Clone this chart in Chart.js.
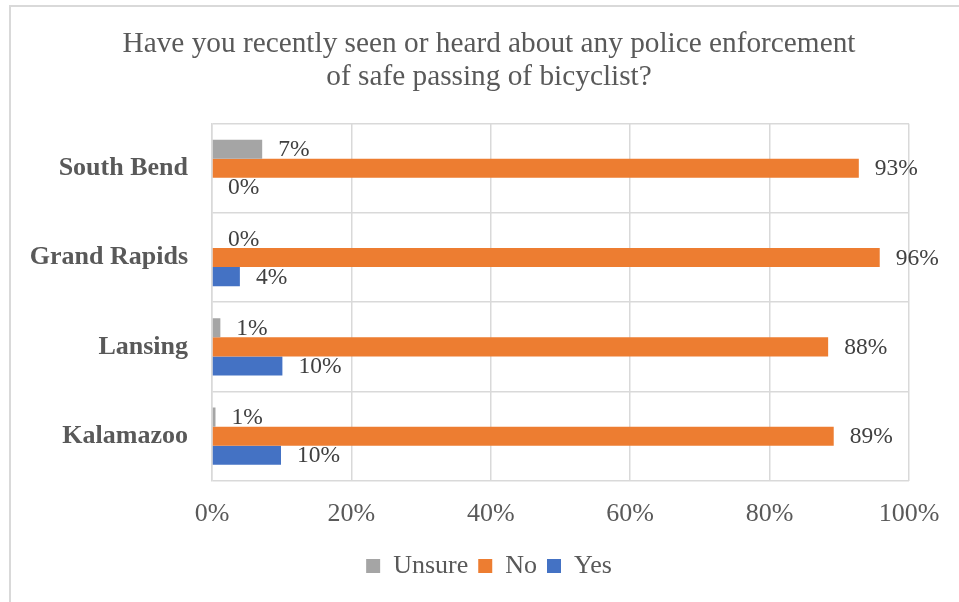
<!DOCTYPE html>
<html>
<head>
<meta charset="utf-8">
<script src="https://cdn.jsdelivr.net/npm/chart.js@4.4.0/dist/chart.umd.min.js"></script>
<style>
  html, body { margin: 0; padding: 0; background: #fff; overflow: hidden; }
  #frame { position: absolute; left: 9px; top: 5px; width: 1000px; height: 1000px;
           border-top: 2px solid #d9d9d9; border-left: 2px solid #d9d9d9; }
  #chart { position: absolute; left: 0; top: 0; }
</style>
</head>
<body>
<div id="frame"></div>
<canvas id="chart" width="959" height="602"></canvas>
<script>
const cities = ['South Bend', 'Grand Rapids', 'Lansing', 'Kalamazoo'];
const unsure = [7.2, 0, 1.2, 0.5];
const no = [92.8, 95.8, 88.4, 89.2];
const yes = [0, 4.0, 10.1, 9.9];
const xTicks = [0, 20, 40, 60, 80, 100];

const SERIF = '"Liberation Serif", "Times New Roman", serif';
const TEXT = '#595959';

// draws the value labels just past the end of each bar
const barLabels = {
  id: 'barLabels',
  afterDatasetsDraw(chart) {
    const ctx = chart.ctx;
    ctx.save();
    ctx.font = '23.5px ' + SERIF;
    ctx.fillStyle = '#404040';
    ctx.textAlign = 'left';
    ctx.textBaseline = 'middle';
    chart.data.datasets.forEach((ds, i) => {
      const meta = chart.getDatasetMeta(i);
      meta.data.forEach((bar, j) => {
        ctx.fillText(Math.round(ds.data[j]) + '%', bar.x + 16, bar.y + 1);
      });
    });
    ctx.restore();
  }
};

new Chart(document.getElementById('chart'), {
  type: 'bar',
  data: {
    labels: cities,
    datasets: [
      { label: 'Unsure', data: unsure, backgroundColor: '#a5a5a5' },
      { label: 'No', data: no, backgroundColor: '#ed7d31' },
      { label: 'Yes', data: yes, backgroundColor: '#4472c4' }
    ]
  },
  options: {
    indexAxis: 'y',
    responsive: false,
    animation: false,
    datasets: { bar: { categoryPercentage: 0.64, barPercentage: 1 } },
    layout: { padding: { left: 20, right: 1, top: 0, bottom: 13 } },
    scales: {
      x: {
        min: 0, max: 100,
        afterBuildTicks: (s) => { s.ticks = xTicks.map(v => ({ value: v })); },
        afterFit: (s) => { s.height -= 5; },
        grid: { color: '#d9d9d9', lineWidth: 1.5, drawTicks: false },
        border: { display: false },
        ticks: {
          padding: 18,
          color: TEXT,
          font: { family: SERIF, size: 26 },
          callback: (v) => v + '%'
        }
      },
      y: {
        afterFit: (s) => { s.width = 192; },
        grid: { color: '#d9d9d9', lineWidth: 1.5, drawTicks: false },
        border: { color: '#d9d9d9', width: 1.5 },
        ticks: {
          padding: 24,
          color: TEXT,
          font: { family: SERIF, size: 26, weight: 'bold' }
        }
      },
      // empty spacer on the right so the title and legend sit where the original has them
      spacer: {
        type: 'linear',
        position: 'right',
        afterFit: (s) => { s.width = 49; },
        grid: { display: false },
        border: { display: false },
        ticks: { display: false }
      }
    },
    plugins: {
      title: {
        display: true,
        text: ['Have you recently seen or heard about any police enforcement', 'of safe passing of bicyclist?'],
        color: TEXT,
        font: { family: SERIF, size: 29.3, weight: 'normal', lineHeight: 1.12 },
        padding: { top: 28, bottom: 30 }
      },
      legend: {
        position: 'bottom',
        labels: {
          color: TEXT,
          font: { family: SERIF, size: 26 },
          boxWidth: 14,
          boxHeight: 14,
          padding: 10
        }
      },
      tooltip: { enabled: false }
    }
  },
  plugins: [barLabels]
});
</script>
</body>
</html>
